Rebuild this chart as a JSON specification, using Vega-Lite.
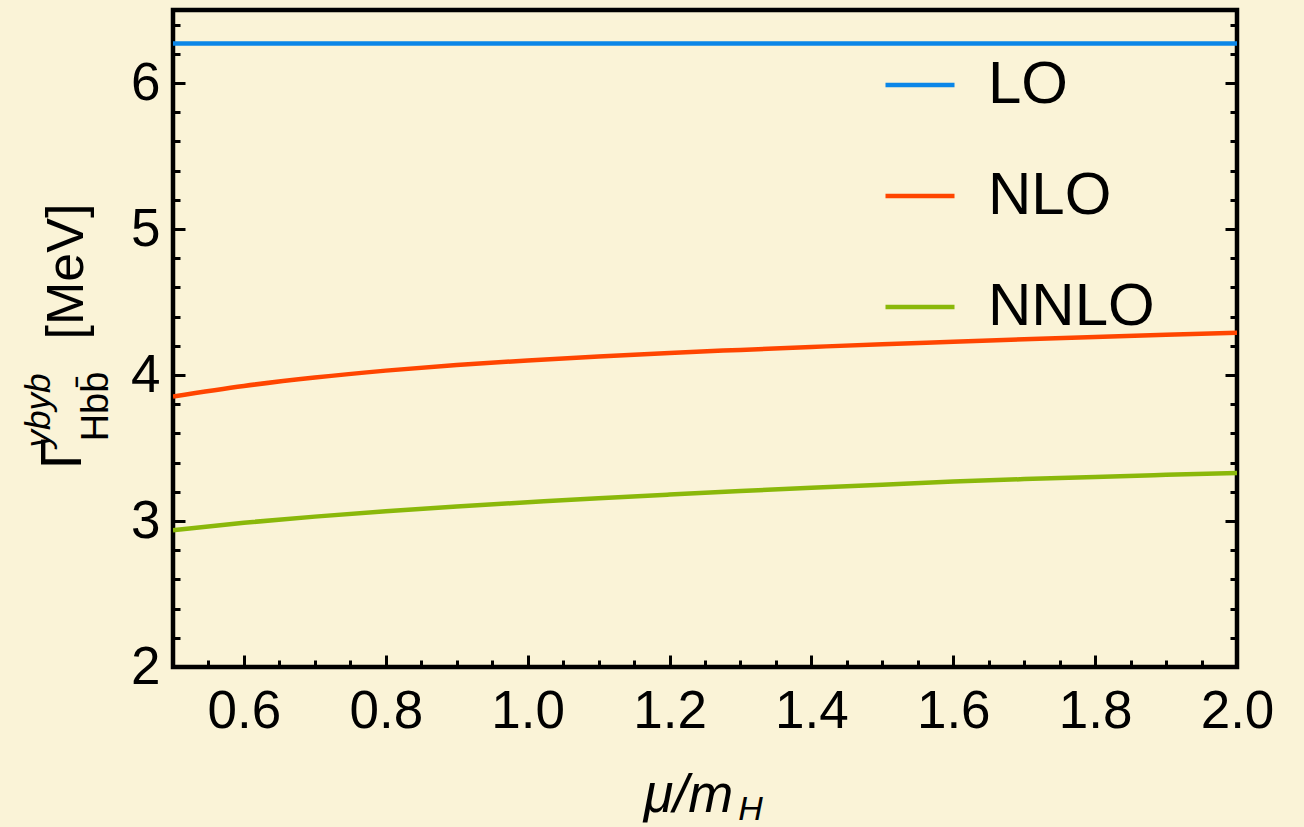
{
  "$schema": "https://vega.github.io/schema/vega-lite/v6.json",
  "autosize": "none",
  "width": 1064,
  "height": 657,
  "padding": {"left": 173, "top": 10, "right": 67, "bottom": 160},
  "background": "#FAF3D7",
  "config": {
    "view": {"stroke": "#000000", "strokeWidth": 4.5, "fill": null},
    "font": "Liberation Sans"
  },
  "datasets": {
    "curves": [
      {"mu": 0.5, "order": "LO", "G": 6.27},
      {"mu": 1.0, "order": "LO", "G": 6.27},
      {"mu": 1.5, "order": "LO", "G": 6.27},
      {"mu": 2.0, "order": "LO", "G": 6.27},
      {"mu": 0.5, "order": "NLO", "G": 3.853},
      {"mu": 0.6, "order": "NLO", "G": 3.925},
      {"mu": 0.7, "order": "NLO", "G": 3.983},
      {"mu": 0.8, "order": "NLO", "G": 4.03},
      {"mu": 0.9, "order": "NLO", "G": 4.068},
      {"mu": 1.0, "order": "NLO", "G": 4.10},
      {"mu": 1.1, "order": "NLO", "G": 4.127},
      {"mu": 1.2, "order": "NLO", "G": 4.151},
      {"mu": 1.3, "order": "NLO", "G": 4.172},
      {"mu": 1.4, "order": "NLO", "G": 4.192},
      {"mu": 1.5, "order": "NLO", "G": 4.211},
      {"mu": 1.6, "order": "NLO", "G": 4.228},
      {"mu": 1.7, "order": "NLO", "G": 4.245},
      {"mu": 1.8, "order": "NLO", "G": 4.261},
      {"mu": 1.9, "order": "NLO", "G": 4.276},
      {"mu": 2.0, "order": "NLO", "G": 4.289},
      {"mu": 0.5, "order": "NNLO", "G": 2.937},
      {"mu": 0.6, "order": "NNLO", "G": 2.988},
      {"mu": 0.7, "order": "NNLO", "G": 3.03},
      {"mu": 0.8, "order": "NNLO", "G": 3.067},
      {"mu": 0.9, "order": "NNLO", "G": 3.099},
      {"mu": 1.0, "order": "NNLO", "G": 3.128},
      {"mu": 1.1, "order": "NNLO", "G": 3.156},
      {"mu": 1.2, "order": "NNLO", "G": 3.181},
      {"mu": 1.3, "order": "NNLO", "G": 3.205},
      {"mu": 1.4, "order": "NNLO", "G": 3.228},
      {"mu": 1.5, "order": "NNLO", "G": 3.249},
      {"mu": 1.6, "order": "NNLO", "G": 3.27},
      {"mu": 1.7, "order": "NNLO", "G": 3.287},
      {"mu": 1.8, "order": "NNLO", "G": 3.302},
      {"mu": 1.9, "order": "NNLO", "G": 3.316},
      {"mu": 2.0, "order": "NNLO", "G": 3.329}
    ]
  },
  "data": {"name": "curves"},
  "layer": [
    {
      "mark": {"type": "line", "strokeWidth": 4.5, "clip": true, "interpolate": "monotone"},
      "encoding": {
        "x": {
          "field": "mu", "type": "quantitative",
          "scale": {"domain": [0.5, 2.0], "nice": false, "zero": false},
          "axis": {
            "orient": "bottom",
            "values": [0.55,0.6,0.65,0.7,0.75,0.8,0.85,0.9,0.95,1.0,1.05,1.1,1.15,1.2,1.25,1.3,1.35,1.4,1.45,1.5,1.55,1.6,1.65,1.7,1.75,1.8,1.85,1.9,1.95,2.0],
            "domain": false, "grid": false,
            "tickColor": "#000000", "tickWidth": 3,
            "tickSize": {"condition": {"test": "abs(datum.value*5-round(datum.value*5))<0.001", "value": -12}, "value": -7},
            "labelExpr": "abs(datum.value*5-round(datum.value*5))<0.001 ? format(datum.value, '.1f') : ''",
            "labelFontSize": 53, "labelColor": "#000000", "labelPadding": 30, "labelFlush": false, "labelOverlap": false,
            "title": "μ/m", "titleFontSize": 54, "titleFontStyle": "italic", "titleFontWeight": "normal", "titleColor": "#000000",
            "titleX": 515, "titleY": 144, "titleBaseline": "alphabetic", "titleAlign": "center"
          }
        },
        "y": {
          "field": "G", "type": "quantitative",
          "scale": {"domain": [2, 6.5], "nice": false, "zero": false},
          "axis": {
            "orient": "left",
            "values": [2.0,2.2,2.4,2.6,2.8,3.0,3.2,3.4,3.6,3.8,4.0,4.2,4.4,4.6,4.8,5.0,5.2,5.4,5.6,5.8,6.0,6.2,6.4],
            "domain": false, "grid": false,
            "tickColor": "#000000", "tickWidth": 3,
            "tickSize": {"condition": {"test": "abs(datum.value-round(datum.value))<0.001", "value": -12}, "value": -7},
            "labelExpr": "abs(datum.value-round(datum.value))<0.001 ? format(datum.value, 'd') : ''",
            "labelFontSize": 53, "labelColor": "#000000", "labelPadding": 25, "labelFlush": false, "labelOverlap": false,
            "title": "[MeV]", "titleFontSize": 52, "titleFontWeight": "normal", "titleColor": "#000000",
            "titleAngle": -90, "titleX": -91, "titleY": 261, "titleBaseline": "alphabetic", "titleAlign": "center"
          }
        },
        "color": {
          "field": "order", "type": "nominal",
          "scale": {"domain": ["LO", "NLO", "NNLO"], "range": ["#0A86E8", "#FF4500", "#8AB80A"]},
          "legend": {
            "orient": "none", "legendX": 710, "legendY": 38,
            "title": null, "symbolType": "stroke", "symbolSize": 4761, "symbolStrokeWidth": 4.5,
            "labelFontSize": 60, "labelColor": "#000000", "labelOffset": 31, "rowPadding": 44, "labelLimit": 400
          }
        }
      }
    },
    {
      "mark": {"type": "point", "opacity": 0},
      "encoding": {
        "x": {"field": "mu", "type": "quantitative",
          "axis": {"orient": "bottom", "domain": false, "ticks": false, "labels": false, "grid": false,
            "title": "H", "titleFontSize": 34, "titleFontStyle": "italic", "titleFontWeight": "normal", "titleColor": "#000000",
            "titleX": 577, "titleY": 152, "titleBaseline": "alphabetic", "titleAlign": "center"}},
        "y": {"field": "G", "type": "quantitative",
          "axis": {"orient": "left", "domain": false, "ticks": false, "labels": false, "grid": false,
            "title": "Γ", "titleFontSize": 57, "titleFontWeight": "normal", "titleColor": "#000000",
            "titleAngle": -90, "titleX": -93, "titleY": 443, "titleBaseline": "alphabetic", "titleAlign": "center"}}
      }
    },
    {
      "mark": {"type": "point", "opacity": 0},
      "encoding": {
        "x": {"field": "mu", "type": "quantitative", "axis": null},
        "y": {"field": "G", "type": "quantitative",
          "axis": {"orient": "right",
            "values": [2.0,2.2,2.4,2.6,2.8,3.0,3.2,3.4,3.6,3.8,4.0,4.2,4.4,4.6,4.8,5.0,5.2,5.4,5.6,5.8,6.0,6.2,6.4],
            "domain": false, "grid": false, "labels": false, "title": null,
            "tickColor": "#000000", "tickWidth": 3,
            "tickSize": {"condition": {"test": "abs(datum.value-round(datum.value))<0.001", "value": -12}, "value": -7}}}
      }
    },
    {
      "mark": {"type": "point", "opacity": 0},
      "encoding": {
        "x": {"field": "mu", "type": "quantitative", "axis": null},
        "y": {"field": "G", "type": "quantitative",
          "axis": {"orient": "left", "domain": false, "ticks": false, "labels": false, "grid": false,
            "title": "ybyb", "titleFontSize": 35, "titleFontStyle": "italic", "titleFontWeight": "normal", "titleColor": "#000000",
            "titleAngle": -90, "titleX": -124, "titleY": 400, "titleBaseline": "alphabetic", "titleAlign": "center"}}
      }
    },
    {
      "mark": {"type": "point", "opacity": 0},
      "encoding": {
        "x": {"field": "mu", "type": "quantitative", "axis": null},
        "y": {"field": "G", "type": "quantitative",
          "axis": {"orient": "left", "domain": false, "ticks": false, "labels": false, "grid": false,
            "title": "Hbb̄", "titleFontSize": 38, "titleFontWeight": "normal", "titleColor": "#000000",
            "titleAngle": -90, "titleX": -66, "titleY": 396, "titleBaseline": "alphabetic", "titleAlign": "center"}}
      }
    }
  ],
  "resolve": {"axis": {"x": "independent", "y": "independent"}}
}
